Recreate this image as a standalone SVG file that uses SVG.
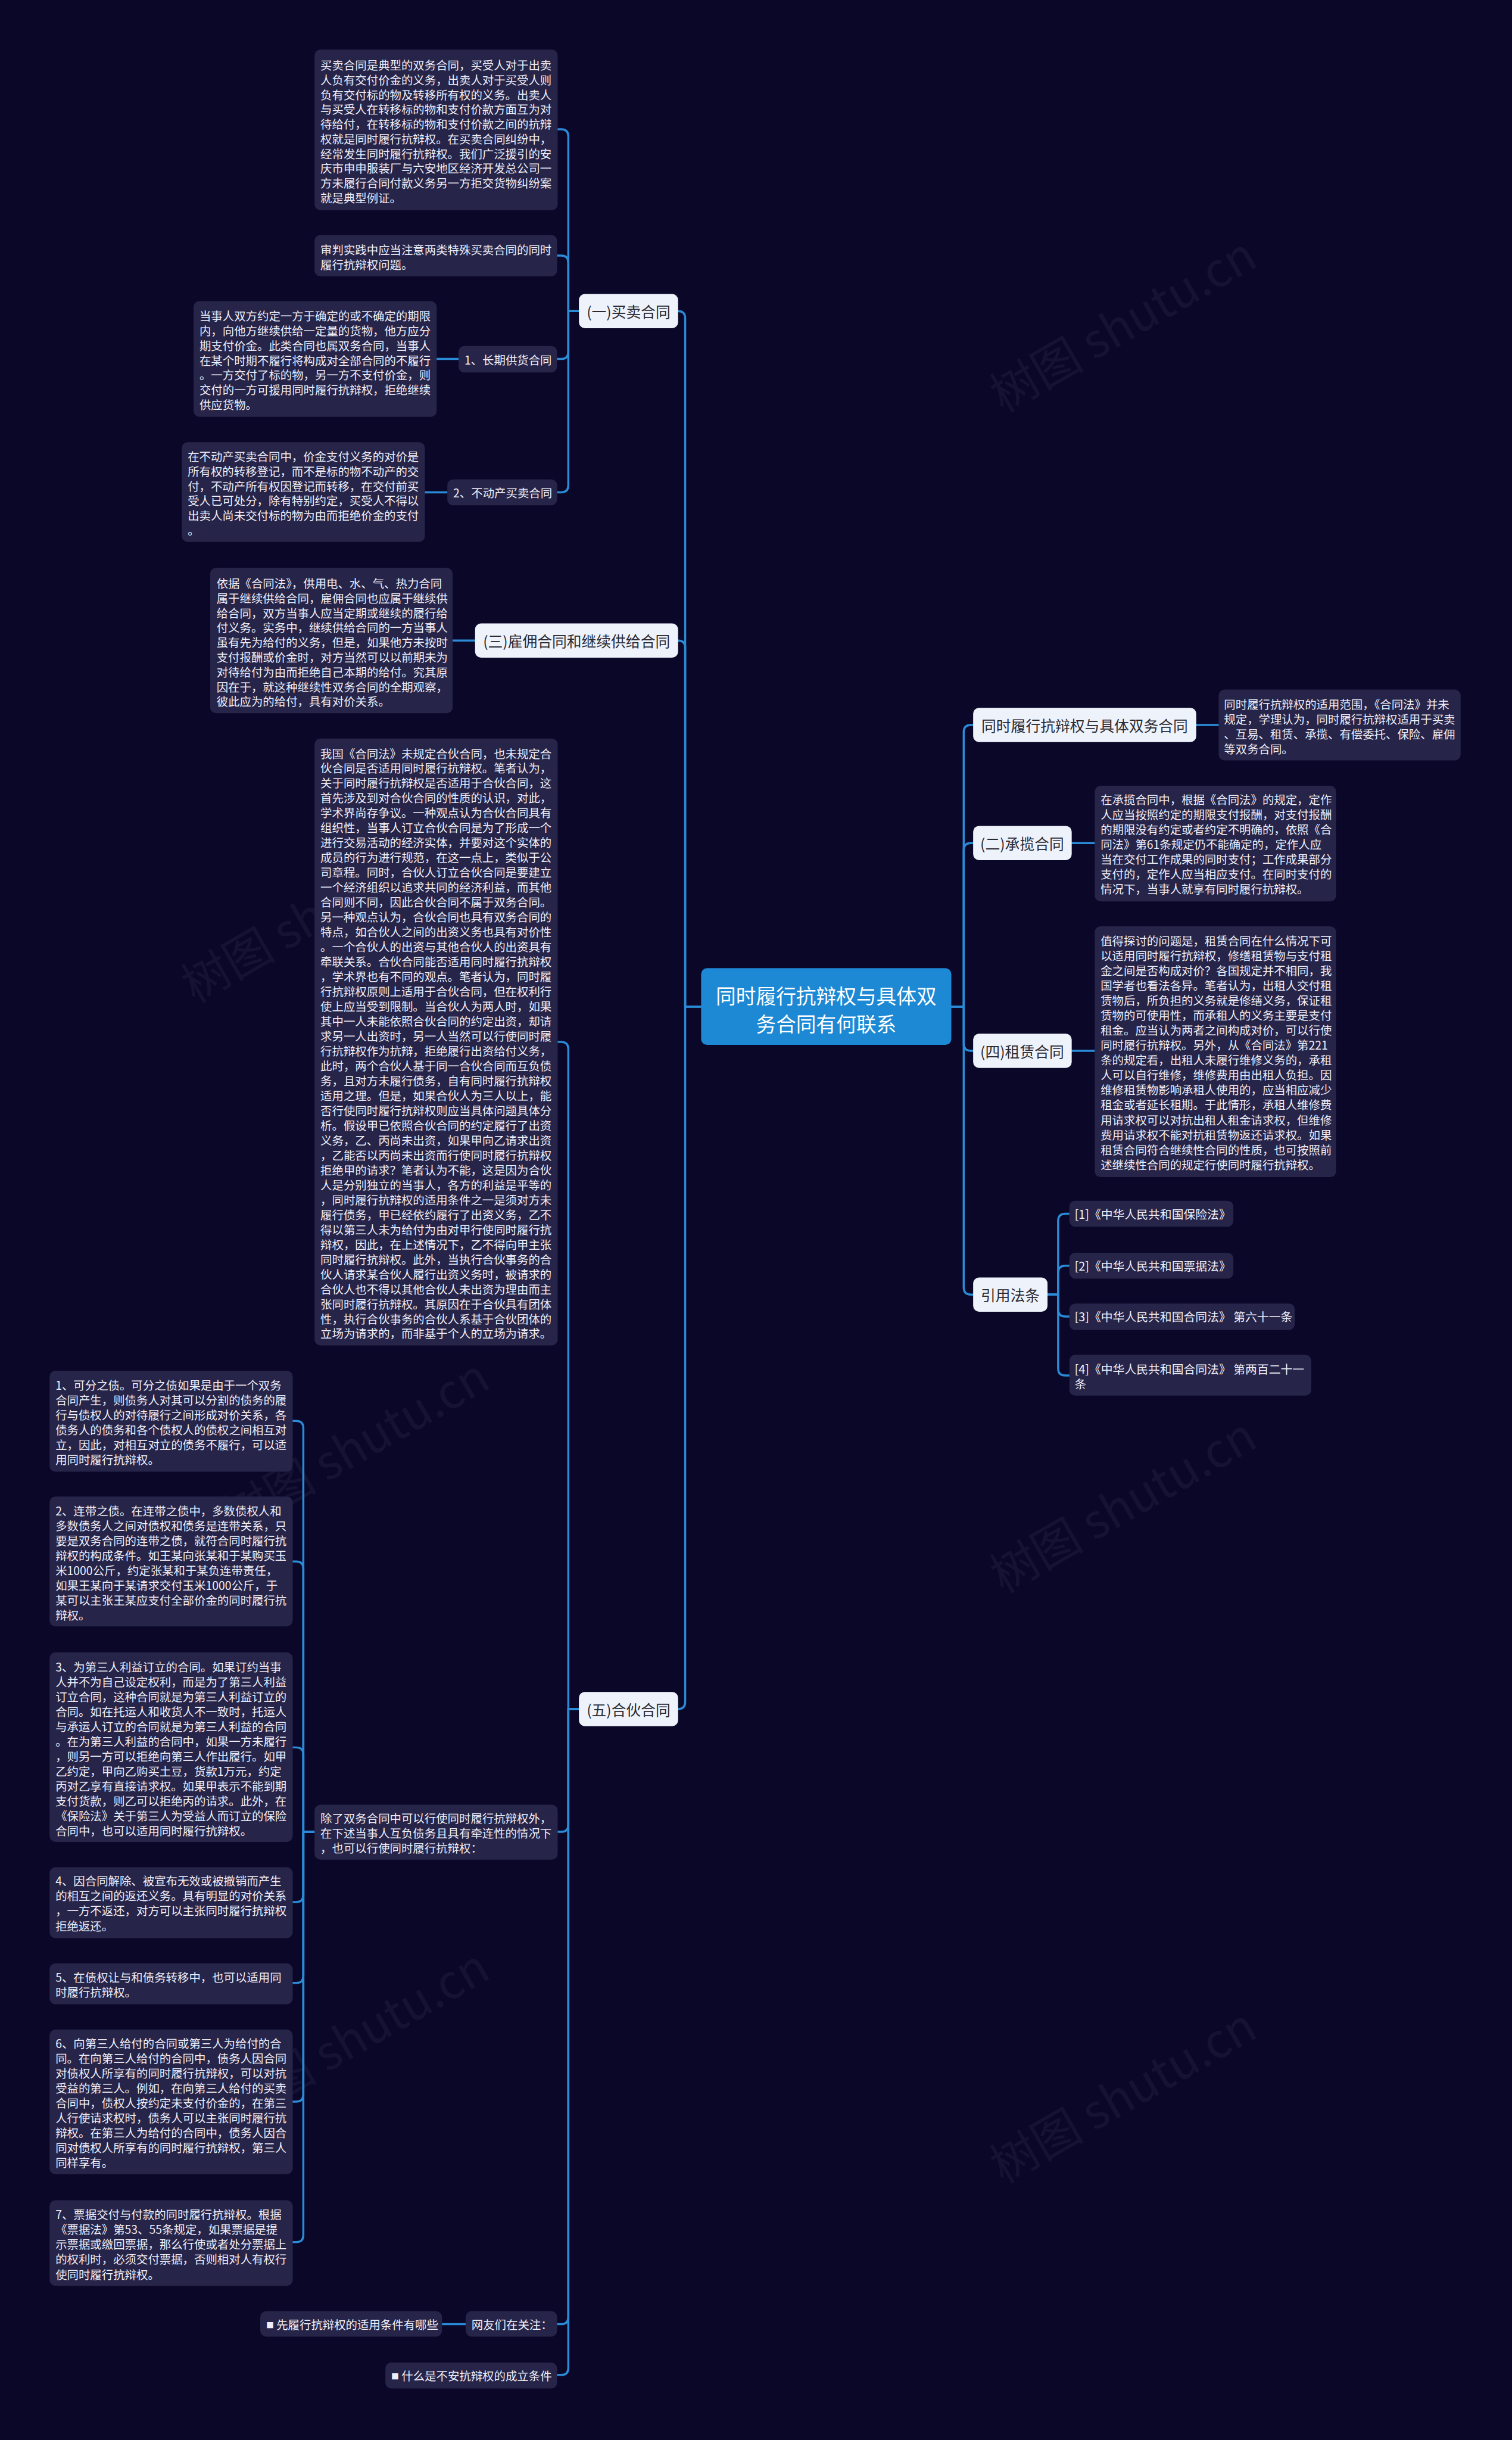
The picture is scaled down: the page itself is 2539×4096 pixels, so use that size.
<svg xmlns="http://www.w3.org/2000/svg" width="2539" height="4096" viewBox="0 0 2539 4096">
<defs>
<style>
.bg{fill:#0a0729}
.box{fill:#262449}
.node{fill:#eef3fb}
.root{fill:#1d88d3}
.t{font-family:"Noto Sans CJK SC","Noto Sans",sans-serif;font-size:19.6px;fill:#efeef7;dominant-baseline:central}
.c{font-family:"Noto Sans CJK SC","Noto Sans",sans-serif;font-size:20px;fill:#efeef7;dominant-baseline:central}
.n{font-family:"Noto Sans CJK SC","Noto Sans",sans-serif;font-size:25px;fill:#2a2a33;dominant-baseline:central;text-anchor:middle}
.r{font-family:"Noto Sans CJK SC","Noto Sans",sans-serif;font-size:34px;fill:#ffffff;dominant-baseline:central;text-anchor:middle}
.w{font-family:"Noto Sans CJK SC","Noto Sans",sans-serif;font-size:80px;fill:#ffffff;opacity:0.045}
.ln{fill:none;stroke:#2b8bd6;stroke-width:3.5;stroke-linecap:round;stroke-linejoin:round}
</style>
</defs>
<rect class="bg" x="0" y="0" width="2539" height="4096"/>
<g transform="scale(0.991)">
<g id="watermarks">
<text class="w" transform="translate(1700,700) rotate(-30)">树图 shutu.cn</text>
<text class="w" transform="translate(330,1700) rotate(-30)">树图 shutu.cn</text>
<text class="w" transform="translate(1700,2700) rotate(-30)">树图 shutu.cn</text>
<text class="w" transform="translate(400,2600) rotate(-30)">树图 shutu.cn</text>
<text class="w" transform="translate(1700,3700) rotate(-30)">树图 shutu.cn</text>
<text class="w" transform="translate(400,3600) rotate(-30)">树图 shutu.cn</text>
</g>
<g id="connectors">
<path class="ln" d="M981,527 H963 V231 Q963,219 951,219 H945"/>
<path class="ln" d="M981,527 H963 V445 Q963,433 951,433 H944"/>
<path class="ln" d="M981,527 H963 V596 Q963,608 951,608 H944"/>
<path class="ln" d="M981,527 H963 V822 Q963,834 951,834 H944"/>
<path class="ln" d="M740,608 H777"/>
<path class="ln" d="M720,834 H758"/>
<path class="ln" d="M767,1085 H805"/>
<path class="ln" d="M1188,1705 H1161 V539 Q1161,527 1149,527"/>
<path class="ln" d="M1188,1705 H1161 V1097 Q1161,1085 1149,1085"/>
<path class="ln" d="M1188,1705 H1161 V2883 Q1161,2895 1149,2895"/>
<path class="ln" d="M981,2895 H963 V1777 Q963,1765 951,1765 H945"/>
<path class="ln" d="M981,2895 H963 V3091 Q963,3103 951,3103 H945"/>
<path class="ln" d="M981,2895 H963 V3925 Q963,3937 951,3937 H944"/>
<path class="ln" d="M981,2895 H963 V4011 Q963,4023 951,4023 H944"/>
<path class="ln" d="M749,3937 H789"/>
<path class="ln" d="M533,3103 H514 V2419 Q514,2407 502,2407 H496"/>
<path class="ln" d="M533,3103 H514 V2657 Q514,2645 502,2645 H496"/>
<path class="ln" d="M533,3103 H514 V2972 Q514,2960 502,2960 H496"/>
<path class="ln" d="M533,3103 H514 V3210 Q514,3222 502,3222 H496"/>
<path class="ln" d="M533,3103 H514 V3347 Q514,3359 502,3359 H496"/>
<path class="ln" d="M533,3103 H514 V3548 Q514,3560 502,3560 H496"/>
<path class="ln" d="M533,3103 H514 V3786 Q514,3798 502,3798 H496"/>
<path class="ln" d="M1612,1705 H1633 V1240 Q1633,1228 1645,1228 H1649"/>
<path class="ln" d="M1612,1705 H1633 V1440 Q1633,1428 1645,1428 H1649"/>
<path class="ln" d="M1612,1705 H1633 V1768 Q1633,1780 1645,1780 H1649"/>
<path class="ln" d="M1612,1705 H1633 V2181 Q1633,2193 1645,2193 H1649"/>
<path class="ln" d="M2027,1228 H2065"/>
<path class="ln" d="M1816,1428 H1855"/>
<path class="ln" d="M1816,1780 H1855"/>
<path class="ln" d="M1775,2193 H1793 V2068 Q1793,2056 1805,2056 H1812"/>
<path class="ln" d="M1775,2193 H1793 V2156 Q1793,2144 1805,2144 H1812"/>
<path class="ln" d="M1775,2193 H1793 V2218 Q1793,2230 1805,2230 H1812"/>
<path class="ln" d="M1775,2193 H1793 V2318 Q1793,2330 1805,2330 H1812"/>
</g>
<g id="root">
<rect class="root" x="1188" y="1640" width="424" height="130" rx="10"/>
<text class="r" x="1400" y="1686">同时履行抗辩权与具体双</text>
<text class="r" x="1400" y="1733">务合同有何联系</text>
</g>
<g id="n-maimai">
<rect class="node" x="981" y="498" width="168" height="58" rx="10"/>
<text class="n" x="1065" y="527">(一)买卖合同</text>
</g>
<g id="n-guyong">
<rect class="node" x="805" y="1056" width="344" height="58" rx="10"/>
<text class="n" x="977" y="1085">(三)雇佣合同和继续供给合同</text>
</g>
<g id="n-hehuo">
<rect class="node" x="981" y="2866" width="168" height="58" rx="10"/>
<text class="n" x="1065" y="2895">(五)合伙合同</text>
</g>
<g id="n-juti">
<rect class="node" x="1649" y="1199" width="378" height="58" rx="10"/>
<text class="n" x="1838" y="1228">同时履行抗辩权与具体双务合同</text>
</g>
<g id="n-chenglan">
<rect class="node" x="1649" y="1399" width="167" height="58" rx="10"/>
<text class="n" x="1732" y="1428">(二)承揽合同</text>
</g>
<g id="n-zulin">
<rect class="node" x="1649" y="1751" width="167" height="58" rx="10"/>
<text class="n" x="1732" y="1780">(四)租赁合同</text>
</g>
<g id="n-yinyong">
<rect class="node" x="1649" y="2164" width="126" height="58" rx="10"/>
<text class="n" x="1712" y="2193">引用法条</text>
</g>
<g id="b-a1">
<rect class="box" x="533" y="84" width="412" height="272" rx="10"/>
<text class="t"><tspan x="543" y="109">买卖合同是典型的双务合同，买受人对于出卖</tspan><tspan x="543" y="134">人负有交付价金的义务，出卖人对于买受人则</tspan><tspan x="543" y="159">负有交付标的物及转移所有权的义务。出卖人</tspan><tspan x="543" y="184">与买受人在转移标的物和支付价款方面互为对</tspan><tspan x="543" y="209">待给付，在转移标的物和支付价款之间的抗辩</tspan><tspan x="543" y="234">权就是同时履行抗辩权。在买卖合同纠纷中，</tspan><tspan x="543" y="259">经常发生同时履行抗辩权。我们广泛援引的安</tspan><tspan x="543" y="284">庆市申申服装厂与六安地区经济开发总公司一</tspan><tspan x="543" y="309">方未履行合同付款义务另一方拒交货物纠纷案</tspan><tspan x="543" y="334">就是典型例证。</tspan></text>
</g>
<g id="b-b">
<rect class="box" x="533" y="398" width="411" height="70" rx="10"/>
<text class="t"><tspan x="543" y="422">审判实践中应当注意两类特殊买卖合同的同时</tspan><tspan x="543" y="447">履行抗辩权问题。</tspan></text>
</g>
<g id="b-c">
<rect class="box" x="777" y="586" width="167" height="45" rx="10"/>
<text class="t" x="787" y="609">1、长期供货合同</text>
</g>
<g id="b-d">
<rect class="box" x="328" y="510" width="412" height="196" rx="10"/>
<text class="t"><tspan x="338" y="534">当事人双方约定一方于确定的或不确定的期限</tspan><tspan x="338" y="559">内，向他方继续供给一定量的货物，他方应分</tspan><tspan x="338" y="584">期支付价金。此类合同也属双务合同，当事人</tspan><tspan x="338" y="609">在某个时期不履行将构成对全部合同的不履行</tspan><tspan x="338" y="634">。一方交付了标的物，另一方不支付价金，则</tspan><tspan x="338" y="659">交付的一方可援用同时履行抗辩权，拒绝继续</tspan><tspan x="338" y="684">供应货物。</tspan></text>
</g>
<g id="b-e">
<rect class="box" x="758" y="812" width="186" height="44" rx="10"/>
<text class="t" x="768" y="834">2、不动产买卖合同</text>
</g>
<g id="b-f">
<rect class="box" x="308" y="749" width="412" height="169" rx="10"/>
<text class="t"><tspan x="318" y="772">在不动产买卖合同中，价金支付义务的对价是</tspan><tspan x="318" y="797">所有权的转移登记，而不是标的物不动产的交</tspan><tspan x="318" y="822">付，不动产所有权因登记而转移，在交付前买</tspan><tspan x="318" y="847">受人已可处分，除有特别约定，买受人不得以</tspan><tspan x="318" y="872">出卖人尚未交付标的物为由而拒绝价金的支付</tspan><tspan x="318" y="897">。</tspan></text>
</g>
<g id="b-g">
<rect class="box" x="356" y="962" width="411" height="246" rx="10"/>
<text class="t"><tspan x="367" y="987">依据《合同法》，供用电、水、气、热力合同</tspan><tspan x="367" y="1012">属于继续供给合同，雇佣合同也应属于继续供</tspan><tspan x="367" y="1037">给合同，双方当事人应当定期或继续的履行给</tspan><tspan x="367" y="1062">付义务。实务中，继续供给合同的一方当事人</tspan><tspan x="367" y="1087">虽有先为给付的义务，但是，如果他方未按时</tspan><tspan x="367" y="1112">支付报酬或价金时，对方当然可以以前期未为</tspan><tspan x="367" y="1137">对待给付为由而拒绝自己本期的给付。究其原</tspan><tspan x="367" y="1162">因在于，就这种继续性双务合同的全期观察，</tspan><tspan x="367" y="1187">彼此应为的给付，具有对价关系。</tspan></text>
</g>
<g id="b-h">
<rect class="box" x="533" y="1251" width="412" height="1028" rx="10"/>
<text class="t"><tspan x="543" y="1275">我国《合同法》未规定合伙合同，也未规定合</tspan><tspan x="543" y="1300.2">伙合同是否适用同时履行抗辩权。笔者认为，</tspan><tspan x="543" y="1325.4">关于同时履行抗辩权是否适用于合伙合同，这</tspan><tspan x="543" y="1350.6">首先涉及到对合伙合同的性质的认识，对此，</tspan><tspan x="543" y="1375.8">学术界尚存争议。一种观点认为合伙合同具有</tspan><tspan x="543" y="1401">组织性，当事人订立合伙合同是为了形成一个</tspan><tspan x="543" y="1426.2">进行交易活动的经济实体，并要对这个实体的</tspan><tspan x="543" y="1451.4">成员的行为进行规范，在这一点上，类似于公</tspan><tspan x="543" y="1476.6">司章程。同时，合伙人订立合伙合同是要建立</tspan><tspan x="543" y="1501.8">一个经济组织以追求共同的经济利益，而其他</tspan><tspan x="543" y="1527">合同则不同，因此合伙合同不属于双务合同。</tspan><tspan x="543" y="1552.2">另一种观点认为，合伙合同也具有双务合同的</tspan><tspan x="543" y="1577.4">特点，如合伙人之间的出资义务也具有对价性</tspan><tspan x="543" y="1602.6">。一个合伙人的出资与其他合伙人的出资具有</tspan><tspan x="543" y="1627.8">牵联关系。合伙合同能否适用同时履行抗辩权</tspan><tspan x="543" y="1653">，学术界也有不同的观点。笔者认为，同时履</tspan><tspan x="543" y="1678.2">行抗辩权原则上适用于合伙合同，但在权利行</tspan><tspan x="543" y="1703.4">使上应当受到限制。当合伙人为两人时，如果</tspan><tspan x="543" y="1728.6">其中一人未能依照合伙合同的约定出资，却请</tspan><tspan x="543" y="1753.8">求另一人出资时，另一人当然可以行使同时履</tspan><tspan x="543" y="1779">行抗辩权作为抗辩，拒绝履行出资给付义务，</tspan><tspan x="543" y="1804.2">此时，两个合伙人基于同一合伙合同而互负债</tspan><tspan x="543" y="1829.4">务，且对方未履行债务，自有同时履行抗辩权</tspan><tspan x="543" y="1854.6">适用之理。但是，如果合伙人为三人以上，能</tspan><tspan x="543" y="1879.8">否行使同时履行抗辩权则应当具体问题具体分</tspan><tspan x="543" y="1905">析。假设甲已依照合伙合同的约定履行了出资</tspan><tspan x="543" y="1930.2">义务，乙、丙尚未出资，如果甲向乙请求出资</tspan><tspan x="543" y="1955.4">，乙能否以丙尚未出资而行使同时履行抗辩权</tspan><tspan x="543" y="1980.6">拒绝甲的请求？笔者认为不能，这是因为合伙</tspan><tspan x="543" y="2005.8">人是分别独立的当事人，各方的利益是平等的</tspan><tspan x="543" y="2031">，同时履行抗辩权的适用条件之一是须对方未</tspan><tspan x="543" y="2056.2">履行债务，甲已经依约履行了出资义务，乙不</tspan><tspan x="543" y="2081.4">得以第三人未为给付为由对甲行使同时履行抗</tspan><tspan x="543" y="2106.6">辩权，因此，在上述情况下，乙不得向甲主张</tspan><tspan x="543" y="2131.8">同时履行抗辩权。此外，当执行合伙事务的合</tspan><tspan x="543" y="2157">伙人请求某合伙人履行出资义务时，被请求的</tspan><tspan x="543" y="2182.2">合伙人也不得以其他合伙人未出资为理由而主</tspan><tspan x="543" y="2207.4">张同时履行抗辩权。其原因在于合伙具有团体</tspan><tspan x="543" y="2232.6">性，执行合伙事务的合伙人系基于合伙团体的</tspan><tspan x="543" y="2257.8">立场为请求的，而非基于个人的立场为请求。</tspan></text>
</g>
<g id="b-r1">
<rect class="box" x="2065" y="1168" width="410" height="120" rx="10"/>
<text class="t"><tspan x="2074" y="1192">同时履行抗辩权的适用范围，《合同法》并未</tspan><tspan x="2074" y="1217">规定，学理认为，同时履行抗辩权适用于买卖</tspan><tspan x="2074" y="1242">、互易、租赁、承揽、有偿委托、保险、雇佣</tspan><tspan x="2074" y="1267">等双务合同。</tspan></text>
</g>
<g id="b-r2">
<rect class="box" x="1855" y="1331" width="409" height="196" rx="10"/>
<text class="t"><tspan x="1865" y="1353">在承揽合同中，根据《合同法》的规定，定作</tspan><tspan x="1865" y="1378.3">人应当按照约定的期限支付报酬，对支付报酬</tspan><tspan x="1865" y="1403.6">的期限没有约定或者约定不明确的，依照《合</tspan><tspan x="1865" y="1428.9">同法》第61条规定仍不能确定的，定作人应</tspan><tspan x="1865" y="1454.2">当在交付工作成果的同时支付；工作成果部分</tspan><tspan x="1865" y="1479.5">支付的，定作人应当相应支付。在同时支付的</tspan><tspan x="1865" y="1504.8">情况下，当事人就享有同时履行抗辩权。</tspan></text>
</g>
<g id="b-r4">
<rect class="box" x="1855" y="1569" width="409" height="425" rx="10"/>
<text class="t"><tspan x="1865" y="1592">值得探讨的问题是，租赁合同在什么情况下可</tspan><tspan x="1865" y="1617.3">以适用同时履行抗辩权，修缮租赁物与支付租</tspan><tspan x="1865" y="1642.6">金之间是否构成对价？各国规定并不相同，我</tspan><tspan x="1865" y="1667.9">国学者也看法各异。笔者认为，出租人交付租</tspan><tspan x="1865" y="1693.2">赁物后，所负担的义务就是修缮义务，保证租</tspan><tspan x="1865" y="1718.5">赁物的可使用性，而承租人的义务主要是支付</tspan><tspan x="1865" y="1743.8">租金。应当认为两者之间构成对价，可以行使</tspan><tspan x="1865" y="1769.1">同时履行抗辩权。另外，从《合同法》第221</tspan><tspan x="1865" y="1794.4">条的规定看，出租人未履行维修义务的，承租</tspan><tspan x="1865" y="1819.7">人可以自行维修，维修费用由出租人负担。因</tspan><tspan x="1865" y="1845">维修租赁物影响承租人使用的，应当相应减少</tspan><tspan x="1865" y="1870.3">租金或者延长租期。于此情形，承租人维修费</tspan><tspan x="1865" y="1895.6">用请求权可以对抗出租人租金请求权，但维修</tspan><tspan x="1865" y="1920.9">费用请求权不能对抗租赁物返还请求权。如果</tspan><tspan x="1865" y="1946.2">租赁合同符合继续性合同的性质，也可按照前</tspan><tspan x="1865" y="1971.5">述继续性合同的规定行使同时履行抗辩权。</tspan></text>
</g>
<g id="cite-1">
<rect class="box" x="1812" y="2034" width="278" height="44" rx="10"/>
<text class="c" x="1821" y="2056">[1]《中华人民共和国保险法》</text>
</g>
<g id="cite-2">
<rect class="box" x="1812" y="2122" width="278" height="44" rx="10"/>
<text class="c" x="1821" y="2144">[2]《中华人民共和国票据法》</text>
</g>
<g id="cite-3">
<rect class="box" x="1812" y="2208" width="382" height="45" rx="10"/>
<text class="c" x="1821" y="2230">[3]《中华人民共和国合同法》 第六十一条</text>
</g>
<g id="cite-4">
<rect class="box" x="1812" y="2295" width="410" height="69" rx="10"/>
<text class="c"><tspan x="1821" y="2318">[4]《中华人民共和国合同法》 第两百二十一</tspan><tspan x="1821" y="2343">条</tspan></text>
</g>
<g id="b-chule">
<rect class="box" x="533" y="3057" width="412" height="93" rx="10"/>
<text class="t"><tspan x="543" y="3079">除了双务合同中可以行使同时履行抗辩权外，</tspan><tspan x="543" y="3104">在下述当事人互负债务且具有牵连性的情况下</tspan><tspan x="543" y="3129">，也可以行使同时履行抗辩权：</tspan></text>
</g>
<g id="b-i1">
<rect class="box" x="84" y="2322" width="412" height="171" rx="10"/>
<text class="t"><tspan x="94" y="2345">1、可分之债。可分之债如果是由于一个双务</tspan><tspan x="94" y="2370.3">合同产生，则债务人对其可以分割的债务的履</tspan><tspan x="94" y="2395.6">行与债权人的对待履行之间形成对价关系，各</tspan><tspan x="94" y="2420.9">债务人的债务和各个债权人的债权之间相互对</tspan><tspan x="94" y="2446.2">立，因此，对相互对立的债务不履行，可以适</tspan><tspan x="94" y="2471.5">用同时履行抗辩权。</tspan></text>
</g>
<g id="b-i2">
<rect class="box" x="84" y="2535" width="412" height="220" rx="10"/>
<text class="t"><tspan x="94" y="2558">2、连带之债。在连带之债中，多数债权人和</tspan><tspan x="94" y="2583.3">多数债务人之间对债权和债务是连带关系，只</tspan><tspan x="94" y="2608.6">要是双务合同的连带之债，就符合同时履行抗</tspan><tspan x="94" y="2633.9">辩权的构成条件。如王某向张某和于某购买玉</tspan><tspan x="94" y="2659.2">米1000公斤，约定张某和于某负连带责任，</tspan><tspan x="94" y="2684.5">如果王某向于某请求交付玉米1000公斤，于</tspan><tspan x="94" y="2709.8">某可以主张王某应支付全部价金的同时履行抗</tspan><tspan x="94" y="2735.1">辩权。</tspan></text>
</g>
<g id="b-i3">
<rect class="box" x="84" y="2799" width="412" height="321" rx="10"/>
<text class="t"><tspan x="94" y="2822">3、为第三人利益订立的合同。如果订约当事</tspan><tspan x="94" y="2847.3">人并不为自己设定权利，而是为了第三人利益</tspan><tspan x="94" y="2872.6">订立合同，这种合同就是为第三人利益订立的</tspan><tspan x="94" y="2897.9">合同。如在托运人和收货人不一致时，托运人</tspan><tspan x="94" y="2923.2">与承运人订立的合同就是为第三人利益的合同</tspan><tspan x="94" y="2948.5">。在为第三人利益的合同中，如果一方未履行</tspan><tspan x="94" y="2973.8">，则另一方可以拒绝向第三人作出履行。如甲</tspan><tspan x="94" y="2999.1">乙约定，甲向乙购买土豆，货款1万元，约定</tspan><tspan x="94" y="3024.4">丙对乙享有直接请求权。如果甲表示不能到期</tspan><tspan x="94" y="3049.7">支付货款，则乙可以拒绝丙的请求。此外，在</tspan><tspan x="94" y="3075">《保险法》关于第三人为受益人而订立的保险</tspan><tspan x="94" y="3100.3">合同中，也可以适用同时履行抗辩权。</tspan></text>
</g>
<g id="b-i4">
<rect class="box" x="84" y="3163" width="412" height="120" rx="10"/>
<text class="t"><tspan x="94" y="3185">4、因合同解除、被宣布无效或被撤销而产生</tspan><tspan x="94" y="3210.3">的相互之间的返还义务。具有明显的对价关系</tspan><tspan x="94" y="3235.6">，一方不返还，对方可以主张同时履行抗辩权</tspan><tspan x="94" y="3260.9">拒绝返还。</tspan></text>
</g>
<g id="b-i5">
<rect class="box" x="84" y="3326" width="412" height="69" rx="10"/>
<text class="t"><tspan x="94" y="3348">5、在债权让与和债务转移中，也可以适用同</tspan><tspan x="94" y="3373.3">时履行抗辩权。</tspan></text>
</g>
<g id="b-i6">
<rect class="box" x="84" y="3438" width="412" height="245" rx="10"/>
<text class="t"><tspan x="94" y="3460">6、向第三人给付的合同或第三人为给付的合</tspan><tspan x="94" y="3485.3">同。在向第三人给付的合同中，债务人因合同</tspan><tspan x="94" y="3510.6">对债权人所享有的同时履行抗辩权，可以对抗</tspan><tspan x="94" y="3535.9">受益的第三人。例如，在向第三人给付的买卖</tspan><tspan x="94" y="3561.2">合同中，债权人按约定未支付价金的，在第三</tspan><tspan x="94" y="3586.5">人行使请求权时，债务人可以主张同时履行抗</tspan><tspan x="94" y="3611.8">辩权。在第三人为给付的合同中，债务人因合</tspan><tspan x="94" y="3637.1">同对债权人所享有的同时履行抗辩权，第三人</tspan><tspan x="94" y="3662.4">同样享有。</tspan></text>
</g>
<g id="b-i7">
<rect class="box" x="84" y="3727" width="412" height="145" rx="10"/>
<text class="t"><tspan x="94" y="3750">7、票据交付与付款的同时履行抗辩权。根据</tspan><tspan x="94" y="3775.3">《票据法》第53、55条规定，如果票据是提</tspan><tspan x="94" y="3800.6">示票据或缴回票据，那么行使或者处分票据上</tspan><tspan x="94" y="3825.9">的权利时，必须交付票据，否则相对人有权行</tspan><tspan x="94" y="3851.2">使同时履行抗辩权。</tspan></text>
</g>
<g id="b-xianlvxing">
<rect class="box" x="441" y="3915" width="308" height="43" rx="10"/>
<text class="t" x="451" y="3937"><tspan font-size="13px">■</tspan> 先履行抗辩权的适用条件有哪些</text>
</g>
<g id="b-wangyou">
<rect class="box" x="789" y="3915" width="155" height="43" rx="10"/>
<text class="t" x="799" y="3937">网友们在关注：</text>
</g>
<g id="b-buan">
<rect class="box" x="653" y="4002" width="291" height="44" rx="10"/>
<text class="t" x="663" y="4024"><tspan font-size="13px">■</tspan> 什么是不安抗辩权的成立条件</text>
</g>
</g>
</svg>
